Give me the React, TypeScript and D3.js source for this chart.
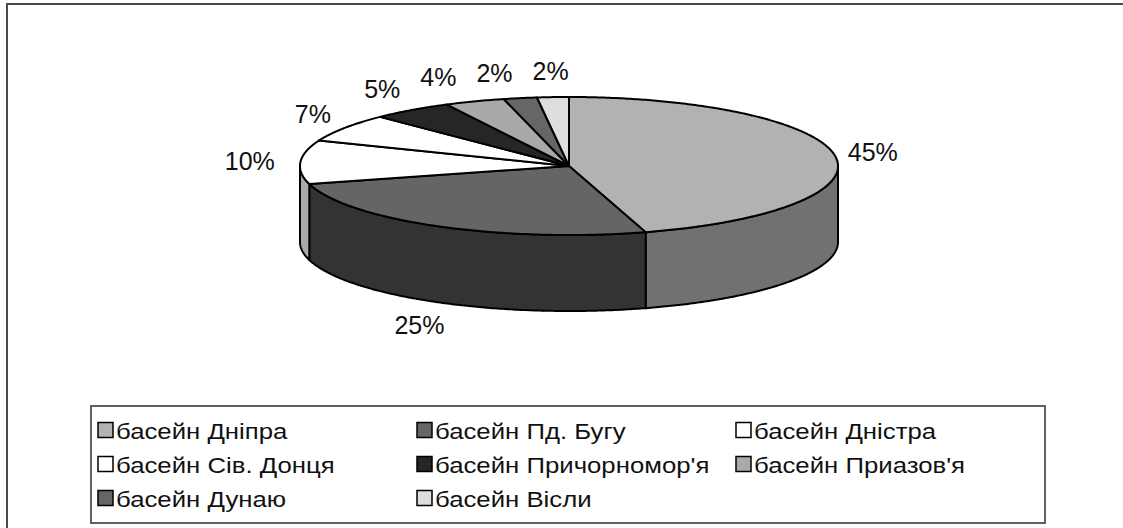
import React, { useEffect, useRef } from 'react'
import * as d3 from 'd3'

// basins and their shares (%)
const basins = [
  'басейн Дніпра',
  'басейн Пд. Бугу',
  'басейн Дністра',
  'басейн Сів. Донця',
  "басейн Причорномор'я",
  "басейн Приазов'я",
  'басейн Дунаю',
  'басейн Вісли',
]
const shares = [45.4, 25.4, 10.2, 6.6, 4.9, 3.6, 2.0, 1.9]

// greyscale palette (top face / side face)
const topFill = ['#b2b2b2', '#656565', '#ffffff', '#ffffff', '#262626', '#a9a9a9', '#666666', '#dedede']
const sideFill = ['#717171', '#333333', '#a9a9a9', '#a9a9a9', '#1a1a1a', '#777777', '#444444', '#a0a0a0']

const W = 1123
const H = 528
const FONT = 'Arial, "Liberation Sans", Helvetica, sans-serif'

type Slice = d3.PieArcDatum<number> & { i: number }

export default function App() {
  const ref = useRef<SVGSVGElement | null>(null)

  useEffect(() => {
    if (!ref.current) return
    const svg = d3.select(ref.current)
    svg.selectAll('*').remove()

    // outer chart frame (only left/top edges fall inside the picture)
    svg
      .append('rect')
      .attr('x', 7)
      .attr('y', 4)
      .attr('width', W + 20)
      .attr('height', H + 20)
      .attr('fill', '#fff')
      .attr('stroke', '#4a4a4a')
      .attr('stroke-width', 2)

    // ellipse of the pie top, and thickness
    const cx = 569
    const cy = 166
    const rx = 269
    const ry = 69
    const depth = 76

    const pt = (a: number, dy = 0): [number, number] => [cx + rx * Math.sin(a), cy - ry * Math.cos(a) + dy]
    const arcPts = (a0: number, a1: number, dy = 0) => {
      const n = Math.max(2, Math.ceil(Math.abs(a1 - a0) / 0.01))
      return d3.range(n + 1).map((k) => pt(a0 + ((a1 - a0) * k) / n, dy))
    }
    const line = d3.line()

    const pie = d3
      .pie<number>()
      .sort(null)
      .value((d) => d)
      .startAngle(0)
      .endAngle(Math.PI * 2)
    const slices: Slice[] = pie(shares).map((s, i) => ({ ...s, i }))

    const g = svg.append('g')

    // side walls: only the front half (90°..270°) is seen
    const lo = Math.PI / 2
    const hi = (Math.PI * 3) / 2
    slices.forEach((s) => {
      const a0 = Math.max(s.startAngle, lo)
      const a1 = Math.min(s.endAngle, hi)
      if (a1 <= a0) return
      const pts = [...arcPts(a0, a1), ...arcPts(a1, a0, depth)]
      g.append('path')
        .attr('d', (line(pts) || '') + 'Z')
        .attr('fill', sideFill[s.i])
        .attr('stroke', '#000')
        .attr('stroke-width', 2)
        .attr('stroke-linejoin', 'round')
    })

    // top faces
    slices.forEach((s) => {
      const pts: [number, number][] = [[cx, cy], ...arcPts(s.startAngle, s.endAngle)]
      g.append('path')
        .attr('d', (line(pts) || '') + 'Z')
        .attr('fill', topFill[s.i])
        .attr('stroke', '#000')
        .attr('stroke-width', 2)
        .attr('stroke-linejoin', 'round')
    })

    // percentage labels around the pie
    const fmt = (v: number) => `${Math.round(v)}%`
    const total = d3.sum(shares)
    const lrx = 307
    const lry = 95
    type Lab = { x: number; y: number; text: string; w: number; top: boolean }
    const labs: Lab[] = slices.map((s) => {
      const m = (s.startAngle + s.endAngle) / 2
      const c = Math.cos(m)
      return {
        x: cx + lrx * Math.sin(m),
        y: cy - lry * c + (c < 0 ? depth : 0),
        text: fmt((s.data / total) * 100),
        w: 0,
        top: c > 0,
      }
    })

    const lg = svg.append('g').attr('font-family', FONT).attr('font-size', 25).attr('fill', '#111')
    const texts = lg
      .selectAll('text')
      .data(labs)
      .join('text')
      .attr('text-anchor', 'middle')
      .attr('dominant-baseline', 'central')
      .text((d) => d.text)
    texts.each(function (d) {
      d.w = (this as SVGTextElement).getComputedTextLength()
    })
    // push crowded labels along the back edge to the left
    const back = labs.filter((d) => d.top).sort((a, b) => b.x - a.x)
    for (let k = 1; k < back.length; k++) {
      const prev = back[k - 1]
      const cur = back[k]
      const maxX = prev.x - prev.w / 2 - 20 - cur.w / 2
      if (cur.x > maxX) cur.x = maxX
    }
    texts.attr('x', (d) => d.x).attr('y', (d) => d.y)

    // legend
    const box = { x: 91, y: 406, w: 954, h: 117 }
    svg
      .append('rect')
      .attr('x', box.x)
      .attr('y', box.y)
      .attr('width', box.w)
      .attr('height', box.h)
      .attr('fill', '#fff')
      .attr('stroke', '#3a3a3a')
      .attr('stroke-width', 1.6)

    const colX = d3.scalePoint<number>().domain([0, 1, 2]).range([98, 736])
    const rowY = d3.scalePoint<number>().domain([0, 1, 2]).range([430, 498])
    const sw = 15
    const stretch = 1.12 // legend lettering in the source is a bit wide
    const item = svg
      .append('g')
      .selectAll('g')
      .data(basins)
      .join('g')
      .attr('transform', (_, i) => `translate(${colX(i % 3)},${rowY(Math.floor(i / 3))})`)
    item
      .append('rect')
      .attr('x', 0)
      .attr('y', -sw / 2)
      .attr('width', sw)
      .attr('height', sw)
      .attr('fill', (_, i) => topFill[i])
      .attr('stroke', '#000')
      .attr('stroke-width', 1.5)
    item
      .append('text')
      .attr('transform', `translate(${sw + 3},1) scale(${stretch},1)`)
      .attr('dominant-baseline', 'central')
      .attr('font-family', FONT)
      .attr('font-size', 23)
      .attr('fill', '#111')
      .text((d) => d)
  }, [])

  return (
    <svg
      ref={ref}
      width={W}
      height={H}
      style={{ position: 'absolute', left: 0, top: 0, background: '#fff' }}
    />
  )
}
